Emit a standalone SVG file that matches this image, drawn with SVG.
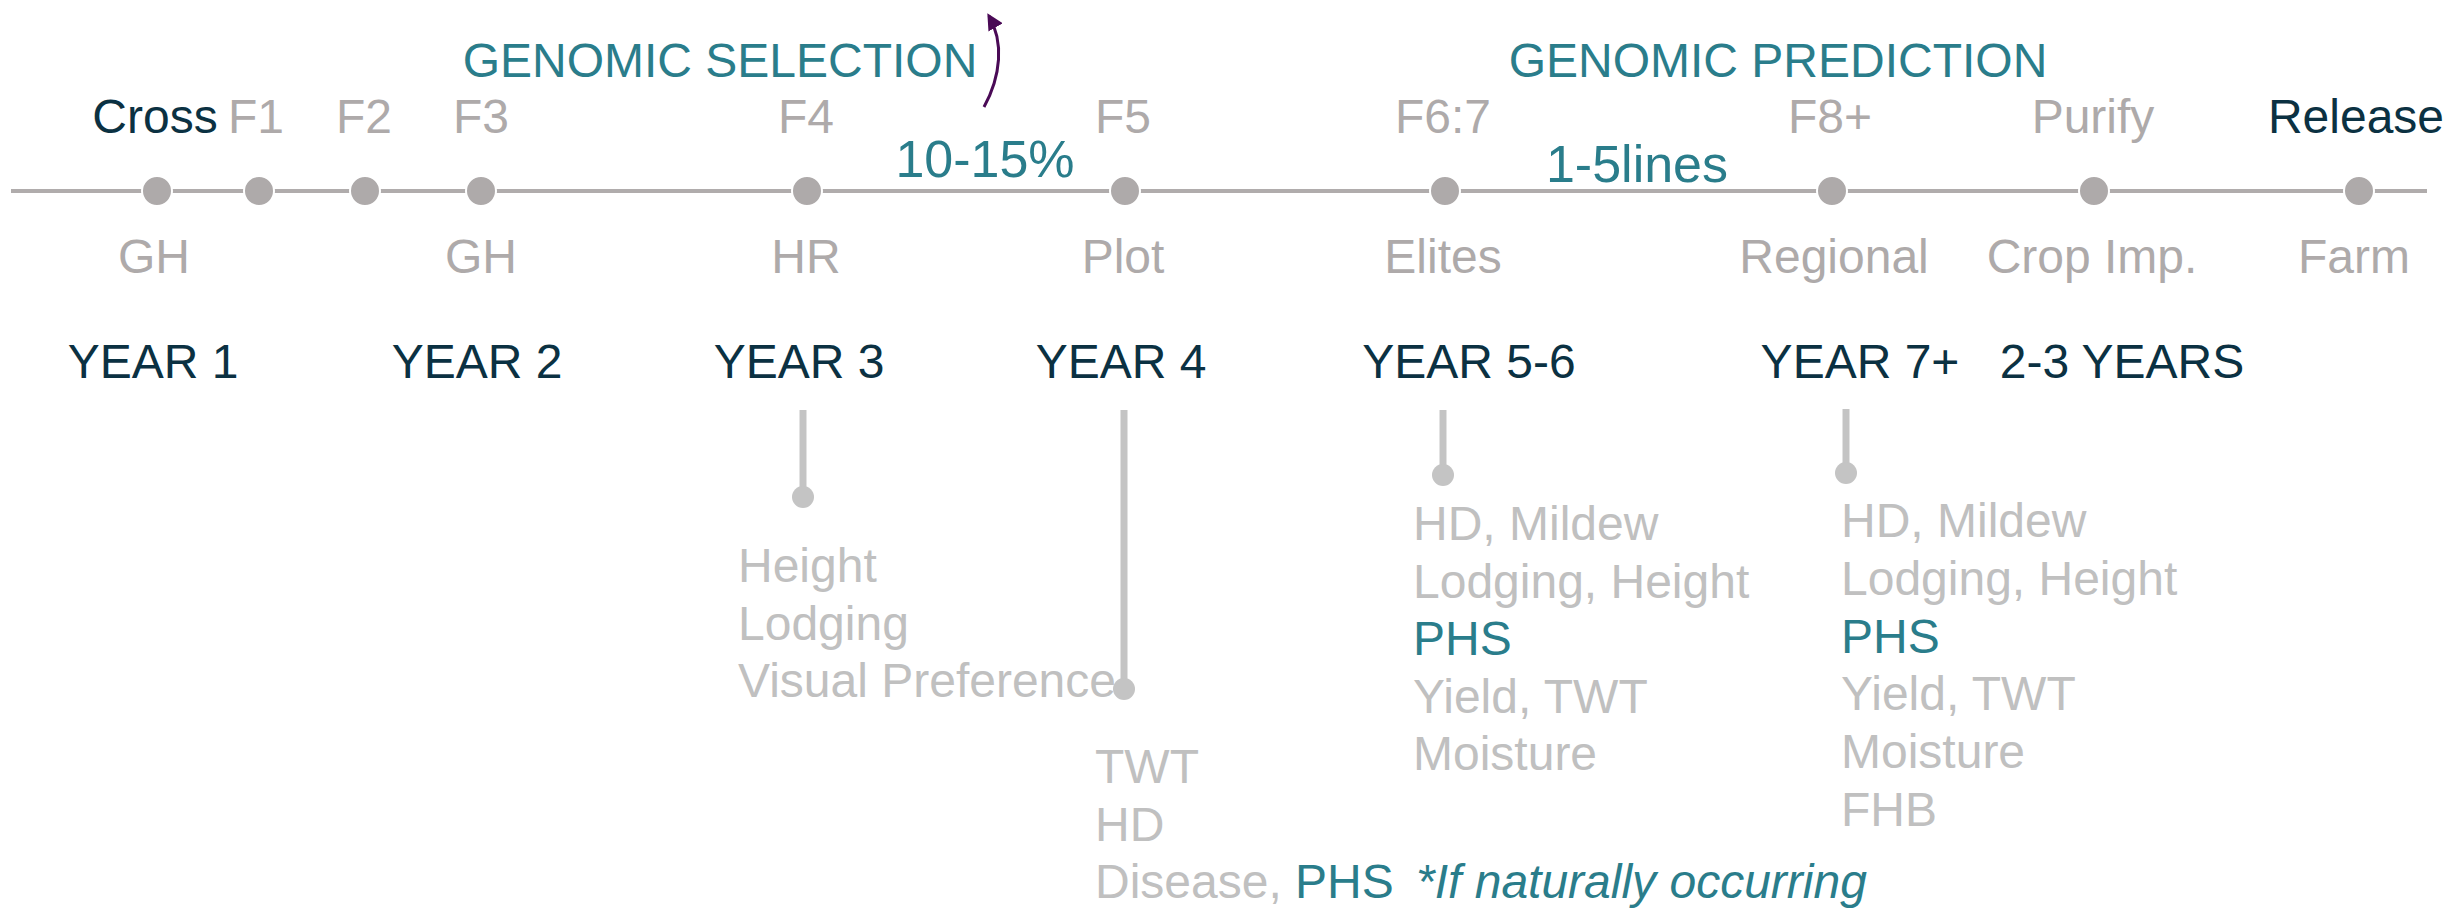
<svg xmlns="http://www.w3.org/2000/svg" width="2463" height="908" viewBox="0 0 2463 908">
<style>
text{font-family:"Liberation Sans",Arial,sans-serif;font-size:48px}
.dark{fill:#0b3142}
.teal{fill:#2a7d8b}
.gray{fill:#aeaaaa}
.lt{fill:#c0c0c0}
.c{text-anchor:middle}
.dot{fill:#aeaaaa;stroke:#fff;stroke-width:2}
.line{stroke:#b0acac;stroke-width:4;fill:none}
.stem{stroke:#c4c4c4;stroke-width:7;fill:none}
.sdot{fill:#c4c4c4}
.big{font-size:52px}
</style>
<defs>
<marker id="ah" viewBox="0 0 10 10" refX="8" refY="5" markerWidth="5.5" markerHeight="5.5" orient="auto" markerUnits="strokeWidth">
<path d="M0,0 L10,5 L0,10 z" fill="#4a0a56"/>
</marker>
</defs>
<rect width="2463" height="908" fill="#fff"/>
<g id="connectors">
<line class="line" x1="11" y1="191" x2="2427" y2="191"/>
<line class="stem" x1="803" y1="410" x2="803" y2="496"/>
<line class="stem" x1="1124" y1="410" x2="1124" y2="688"/>
<line class="stem" x1="1443" y1="410" x2="1443" y2="474"/>
<line class="stem" x1="1846" y1="409" x2="1846" y2="472"/>
<path d="M984 107 C1001 76 1004 42 989 16" stroke="#4a0a56" stroke-width="3" fill="none" marker-end="url(#ah)"/>
</g>
<g id="headings">
<text class="teal c" x="720" y="77">GENOMIC SELECTION</text>
<text class="teal c" x="1778" y="77">GENOMIC PREDICTION</text>
<text class="teal c big" x="985" y="177">10-15%</text>
<text class="teal c big" x="1637" y="182">1-5lines</text>
</g>
<g id="cross"><circle class="dot" cx="157" cy="191" r="15"/><text class="dark c" x="155" y="133">Cross</text><text class="gray c" x="154" y="273">GH</text></g>
<g id="f1"><circle class="dot" cx="259" cy="191" r="15"/><text class="gray c" x="256" y="133">F1</text></g>
<g id="f2"><circle class="dot" cx="365" cy="191" r="15"/><text class="gray c" x="364" y="133">F2</text></g>
<g id="f3"><circle class="dot" cx="481" cy="191" r="15"/><text class="gray c" x="481" y="133">F3</text><text class="gray c" x="481" y="273">GH</text></g>
<g id="f4"><circle class="dot" cx="807" cy="191" r="15"/><text class="gray c" x="806" y="133">F4</text><text class="gray c" x="806" y="273">HR</text></g>
<g id="f5"><circle class="dot" cx="1125" cy="191" r="15"/><text class="gray c" x="1123" y="133">F5</text><text class="gray c" x="1123" y="273">Plot</text></g>
<g id="f67"><circle class="dot" cx="1445" cy="191" r="15"/><text class="gray c" x="1443" y="133">F6:7</text><text class="gray c" x="1443" y="273">Elites</text></g>
<g id="f8"><circle class="dot" cx="1832" cy="191" r="15"/><text class="gray c" x="1830" y="133">F8+</text><text class="gray c" x="1834" y="273">Regional</text></g>
<g id="purify"><circle class="dot" cx="2094" cy="191" r="15"/><text class="gray c" x="2093" y="133">Purify</text><text class="gray c" x="2092" y="273">Crop Imp.</text></g>
<g id="release"><circle class="dot" cx="2359" cy="191" r="15"/><text class="dark c" x="2356" y="133">Release</text><text class="gray c" x="2354" y="273">Farm</text></g>
<g id="years">
<text class="dark c" x="153" y="378">YEAR 1</text>
<text class="dark c" x="477" y="378">YEAR 2</text>
<text class="dark c" x="799" y="378">YEAR 3</text>
<text class="dark c" x="1121" y="378">YEAR 4</text>
<text class="dark c" x="1469" y="378">YEAR 5-6</text>
<text class="dark c" x="1860" y="378">YEAR 7+</text>
<text class="dark c" x="2122" y="378">2-3 YEARS</text>
</g>
<g id="year3-traits">
<circle class="sdot" cx="803" cy="497" r="11"/>
<text class="lt" x="738" y="582">Height</text>
<text class="lt" x="738" y="640">Lodging</text>
<text class="lt" x="738" y="697">Visual Preference</text>
</g>
<g id="year4-traits">
<circle class="sdot" cx="1124" cy="689" r="11"/>
<text class="lt" x="1095" y="783">TWT</text>
<text class="lt" x="1095" y="841">HD</text>
<text x="1095" y="898"><tspan class="lt">Disease, </tspan><tspan class="teal">PHS</tspan><tspan class="teal" x="1416" font-style="italic">*If naturally occurring</tspan></text>
</g>
<g id="year56-traits">
<circle class="sdot" cx="1443" cy="475" r="11"/>
<text class="lt" x="1413" y="540">HD, Mildew</text>
<text class="lt" x="1413" y="598">Lodging, Height</text>
<text class="teal" x="1413" y="655">PHS</text>
<text class="lt" x="1413" y="713">Yield, TWT</text>
<text class="lt" x="1413" y="770">Moisture</text>
</g>
<g id="year7-traits">
<circle class="sdot" cx="1846" cy="473" r="11"/>
<text class="lt" x="1841" y="537">HD, Mildew</text>
<text class="lt" x="1841" y="595">Lodging, Height</text>
<text class="teal" x="1841" y="653">PHS</text>
<text class="lt" x="1841" y="710">Yield, TWT</text>
<text class="lt" x="1841" y="768">Moisture</text>
<text class="lt" x="1841" y="826">FHB</text>
</g>
</svg>
